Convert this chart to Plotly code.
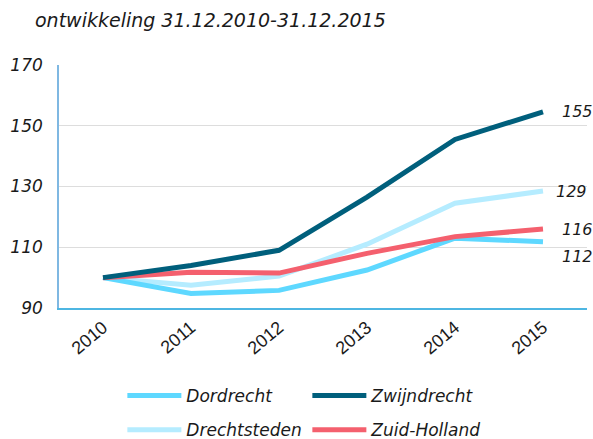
import plotly.graph_objects as go

# Data (index, 2010 = 100)
years = ["2010", "2011", "2012", "2013", "2014", "2015"]
dordrecht = [100, 94.8, 95.8, 102.5, 113.0, 111.8]
zwijndrecht = [100, 104.0, 109.0, 126.5, 145.5, 154.6]
drechtsteden = [100, 97.5, 100.5, 111.0, 124.5, 128.5]
zuid_holland = [100, 101.8, 101.5, 108.0, 113.5, 116.0]
end_labels = ["112", "155", "129", "116"]

FONT = "DejaVu Sans, Verdana, sans-serif"

series = [
    ("Dordrecht", dordrecht, "#5ED8FF", "legend"),
    ("Zwijndrecht", zwijndrecht, "#005F7C", "legend"),
    ("Drechtsteden", drechtsteden, "#B5ECFF", "legend2"),
    ("Zuid-Holland", zuid_holland, "#F4606E", "legend2"),
]

fig = go.Figure()
# draw order so red sits above pale lines like in the original
for name, vals, color, leg in [series[2], series[0], series[3], series[1]]:
    fig.add_trace(go.Scatter(
        x=years, y=vals, mode="lines", name=name, legend=leg,
        line=dict(color=color, width=5),
    ))

order = {"Dordrecht": 1, "Zwijndrecht": 2, "Drechtsteden": 3, "Zuid-Holland": 4}
for tr in fig.data:
    tr.legendrank = order[tr.name]

# end-of-line value labels
yshift = {"112": -15, "155": 0, "129": 0, "116": 0}
xshift = {"112": 34, "155": 34, "129": 28, "116": 34}
last = len(years) - 1
for (name, vals, color, leg), lab in zip(series, end_labels):
    fig.add_annotation(
        x=last, y=vals[-1], text=lab, showarrow=False,
        xshift=xshift[lab], yshift=yshift[lab],
        font=dict(family=FONT, size=16, color="#1a1a1a", style="italic"),
    )

fig.add_annotation(
    xref="paper", yref="paper", x=-0.05, y=1.185, xanchor="left", yanchor="middle",
    text="ontwikkeling 31.12.2010-31.12.2015", showarrow=False,
    font=dict(family=FONT, size=19, color="#1a1a1a", style="italic"),
)

legend_style = dict(
    orientation="h", xanchor="left", yanchor="middle", yref="container",
    entrywidth=116, itemwidth=54, bgcolor="rgba(0,0,0,0)",
    font=dict(family=FONT, size=17, color="#1a1a1a", style="italic"),
)

fig.update_layout(
    width=593, height=439,
    plot_bgcolor="white", paper_bgcolor="white",
    margin=dict(t=65, l=59, b=131, r=6),
    font=dict(family=FONT, size=15, color="#1a1a1a"),
    showlegend=True,
    legend=dict(x=0.12, y=0.098, **legend_style),
    legend2=dict(x=0.12, y=0.02, **legend_style),
)
fig.update_xaxes(
    type="category", range=[-0.5, last + 0.5],
    showgrid=False, showline=True, linecolor="#4DB6E2", linewidth=2,
    tickangle=-40, ticks="",
    tickfont=dict(family="Liberation Sans, sans-serif", size=18, color="#1a1a1a"),
)
fig.update_yaxes(
    range=[90, 170], dtick=20, tick0=90, showgrid=True, gridcolor="#DDDDDD", gridwidth=1,
    showline=True, linecolor="#7FB8E2", linewidth=2, zeroline=False,
    tickfont=dict(family=FONT, size=17, color="#1a1a1a", style="italic"),
    ticksuffix="  ",
)

fig.write_html("out.html", config={"displayModeBar": False},
               post_script="document.body.style.margin='0px';")
